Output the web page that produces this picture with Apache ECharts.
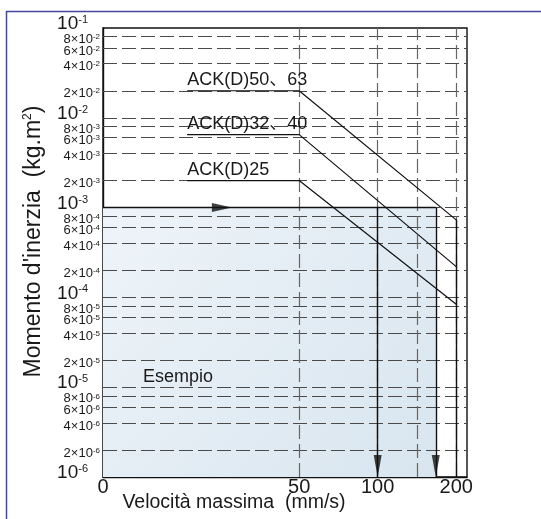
<!DOCTYPE html>
<html><head><meta charset="utf-8">
<script src="https://cdn.jsdelivr.net/npm/echarts@6/dist/echarts.min.js"></script>
<style>html,body{margin:0;padding:0;background:#fff}#c{width:541px;height:519px}</style>
</head><body><div id="c"></div>
<script>
// ---- data ----
const seriesNames = ['ACK(D)50、63', 'ACK(D)32、40', 'ACK(D)25'];
const ack5063 = [[18.6, 2e-2], [50, 2e-2], [200, 7.3e-4]];
const ack3240 = [[18.6, 6.5e-3], [50, 6.5e-3], [200, 2.2e-4]];
const ack25   = [[18.6, 2e-3], [50, 2e-3], [200, 8.4e-5]];
const exampleInertia = 1e-3;
const exampleSpeeds = [100, 167];
const exampleArrowSpeed = 27.6;
const exampleLabel = 'Esempio';

const xMinSpeed = 8.85;
const xMaxSpeed = 220;
const xTickValues = [50, 100, 200];
const xTickLabels = ['50', '100', '200'];
const xOriginLabel = '0';
const xGridValues = [50, 100, 142, 200];

const yMin = 1e-6;
const yMax = 1e-1;
const yMajorTicks = [1e-1, 1e-2, 1e-3, 1e-4, 1e-5, 1e-6];
const yMinorTicks = [8e-2, 6e-2, 4e-2, 2e-2, 8e-3, 6e-3, 4e-3, 2e-3, 8e-4, 6e-4, 4e-4, 2e-4,
                     8e-5, 6e-5, 4e-5, 2e-5, 8e-6, 6e-6, 4e-6, 2e-6];

const xAxisName = 'Velocità massima  (mm/s)';
const yAxisNameParts = ["Momento d'inerzia  (kg.m", '2', ')'];

// ---- styles ----
const FONT = 'Liberation Sans, Arial, Noto Sans CJK SC, sans-serif';
const TXT = '#1a1a1a';
const dashStyle = { color: '#4a4a4a', width: 1.2, type: [14, 5] };
const solid = { color: '#111', width: 1.4, type: 'solid' };

function expOf(v) { return Math.floor(Math.log10(v) + 1e-9); }
function mantOf(v) { return Math.round(v / Math.pow(10, expOf(v))); }

const chart = echarts.init(document.getElementById('c'), null, { renderer: 'canvas' });

const hGrid = yMajorTicks.filter(v => v !== yMin && v !== yMax).map(v => ({ yAxis: v }))
  .concat(yMinorTicks.map(v => ({
    yAxis: v,
    label: { show: true, formatter: '{a|' + mantOf(v) + '×10}{s|' + expOf(v) + '}' }
  })));

const vGrid = xGridValues.map(v => {
  const i = xTickValues.indexOf(v);
  return i >= 0 ? { xAxis: v, label: { show: true, formatter: xTickLabels[i] } } : { xAxis: v };
});
vGrid.push({ xAxis: xMinSpeed, lineStyle: { color: 'rgba(0,0,0,0)', width: 0 }, label: { show: true, formatter: xOriginLabel } });

function lineSeries(name, data) {
  return {
    name: name, type: 'line', data: data.map((p, i) => i === 0 ? {
      value: p,
      label: { show: true, position: 'top', align: 'left', distance: 2, formatter: name,
               fontFamily: FONT, fontSize: 18, color: TXT }
    } : { value: p }),
    symbol: 'circle', symbolSize: 0, showSymbol: true, showAllSymbol: true,
    lineStyle: { color: '#111', width: 1.2 }, z: 5, silent: true
  };
}

const option = {
  animation: false,
  backgroundColor: '#fff',
  graphic: [{ type: 'rect', shape: { x: 6.5, y: 11.5, width: 700, height: 700 },
              style: { fill: 'none', stroke: '#45479b', lineWidth: 1.5 }, silent: true }],
  grid: { left: 103, top: 28, width: 364, height: 449, show: true, borderColor: '#111', borderWidth: 1.4, backgroundColor: 'transparent' },
  xAxis: {
    type: 'log', logBase: 10, min: xMinSpeed, max: xMaxSpeed,
    axisLine: { show: true, lineStyle: { color: '#111', width: 1.4 } },
    axisTick: { show: false }, axisLabel: { show: false }, splitLine: { show: false }, minorSplitLine: { show: false },
    name: xAxisName, nameLocation: 'middle', nameGap: 16,
    nameTextStyle: { fontFamily: FONT, fontSize: 19.5, color: TXT, padding: [0, 102, 0, 0] }
  },
  yAxis: {
    type: 'log', logBase: 10, min: yMin, max: yMax,
    axisLine: { show: true, lineStyle: { color: '#111', width: 1.4 } },
    axisTick: { show: false }, splitLine: { show: false },
    axisLabel: {
      show: true, margin: 15, showMinLabel: true, showMaxLabel: true,
      formatter: v => '{b|10}{s|' + Math.round(Math.log10(v)) + '}',
      padding: [0, 0, 8, 0],
      rich: {
        b: { fontFamily: FONT, fontSize: 19, color: TXT },
        s: { fontFamily: FONT, fontSize: 11, color: TXT, verticalAlign: 'top' }
      }
    },
    name: '{a|' + yAxisNameParts[0] + '}{s|' + yAxisNameParts[1] + '}{a|' + yAxisNameParts[2] + '}',
    nameLocation: 'middle', nameGap: 58, nameRotate: 90,
    nameTextStyle: {
      padding: [0, 0, 0, 22],
      rich: {
        a: { fontFamily: FONT, fontSize: 23, color: TXT },
        s: { fontFamily: FONT, fontSize: 12, color: TXT, verticalAlign: 'top' }
      }
    }
  },
  series: [
    {
      name: 'area', type: 'line', data: [], z: 1, silent: true,
      markArea: {
        silent: true,
        itemStyle: { color: { type: 'linear', x: 0, y: 0, x2: 1, y2: 1,
          colorStops: [{ offset: 0, color: '#eef4f9' }, { offset: 1, color: '#d8e5ef' }] } },
        label: { show: true, position: ['12%', '63%'], align: 'left', verticalAlign: 'middle',
                 formatter: exampleLabel, fontFamily: FONT, fontSize: 18, color: TXT },
        data: [[{ coord: [xMinSpeed, yMin] }, { coord: [exampleSpeeds[1], exampleInertia] }]]
      }
    },
    {
      name: 'grid', type: 'line', data: [], z: 2, silent: true,
      markLine: {
        silent: true, symbol: 'none', animation: false, precision: 12,
        lineStyle: dashStyle,
        label: {
          show: false, position: 'start', distance: 3,
          padding: [6, 0, 0, 0],
          rich: {
            a: { fontFamily: FONT, fontSize: 13, color: TXT },
            s: { fontFamily: FONT, fontSize: 8, color: TXT, verticalAlign: 'top' }
          }
        },
        data: hGrid
      }
    },
    {
      name: 'vgrid', type: 'line', data: [], z: 2, silent: true,
      markLine: {
        silent: true, symbol: 'none', animation: false, precision: 12,
        lineStyle: { color: '#666', width: 1.2, type: [14, 5] },
        label: { show: false, position: 'start', distance: 0, fontFamily: FONT, fontSize: 20, color: TXT },
        data: vGrid
      }
    },
    {
      name: 'example', type: 'line', data: [], z: 4, silent: true,
      markLine: {
        silent: true, symbol: 'none', animation: false, precision: 12, lineStyle: solid, label: { show: false },
        data: [
          [{ coord: [xMinSpeed, exampleInertia] }, { coord: [exampleSpeeds[1], exampleInertia] }],
          [{ coord: [exampleSpeeds[0], exampleInertia] }, { coord: [exampleSpeeds[0], yMin] }],
          [{ coord: [exampleSpeeds[1], exampleInertia] }, { coord: [exampleSpeeds[1], yMin] }],
          [{ coord: [ack5063[2][0], ack5063[2][1]] }, { coord: [ack5063[2][0], yMin] }]
        ]
      }
    },
    {
      name: 'arrowsDown', type: 'scatter', z: 6, silent: true,
      data: exampleSpeeds.map(s => [s, yMin]),
      symbol: 'triangle', symbolSize: [8, 22], symbolRotate: 180, symbolOffset: [0, -11],
      itemStyle: { color: '#111' }
    },
    {
      name: 'arrowRight', type: 'scatter', z: 6, silent: true,
      data: [[exampleArrowSpeed, exampleInertia]],
      symbol: 'triangle', symbolSize: [9, 20], symbolRotate: -90, symbolOffset: [-10, 0],
      itemStyle: { color: '#111' }
    },
    lineSeries(seriesNames[0], ack5063),
    lineSeries(seriesNames[1], ack3240),
    lineSeries(seriesNames[2], ack25)
  ]
};
chart.setOption(option);
</script>
</body></html>
